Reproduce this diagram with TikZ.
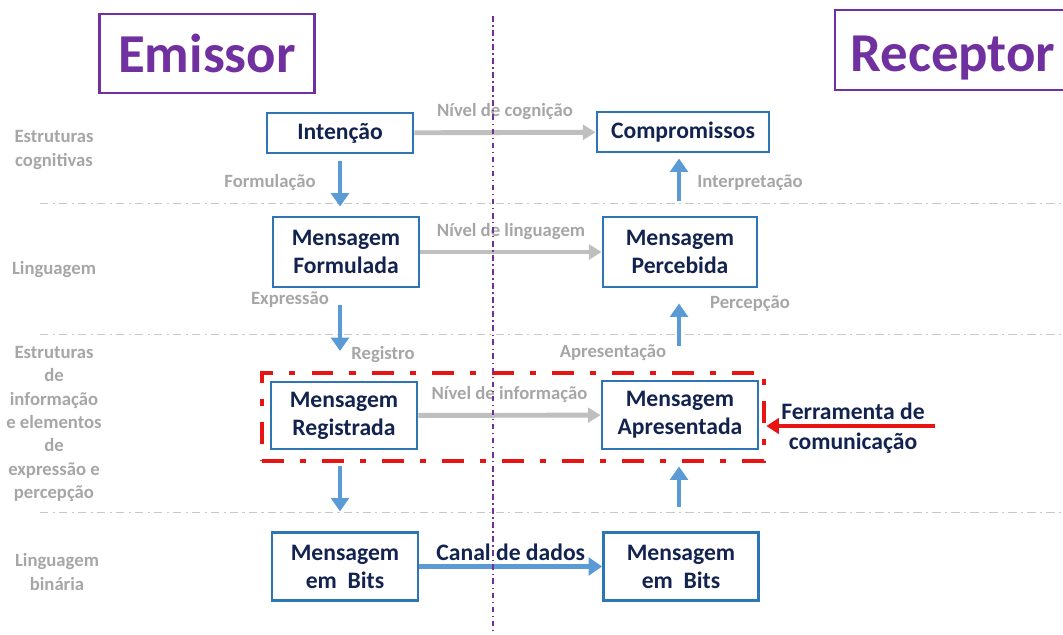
\documentclass[tikz,border=0pt]{standalone}
\usepackage{fontspec}
\setmainfont{Carlito}
\usetikzlibrary{arrows.meta,positioning}

\definecolor{boxblue}{HTML}{2E75B6}
\definecolor{flowblue}{HTML}{5B9BD5}
\definecolor{navy}{HTML}{13234F}
\definecolor{lblgray}{HTML}{A6A6A6}
\definecolor{levelgray}{HTML}{BFBFBF}
\definecolor{sepgray}{HTML}{C8C8C8}
\definecolor{rolepurple}{HTML}{7030A0}
\definecolor{toolred}{HTML}{E81414}

\tikzset{
  msgbox/.style={draw=boxblue, line width=2pt, fill=white, text=navy, align=center,
    inner sep=0pt, font=\fontsize{16.8}{20}\selectfont\bfseries},
  role/.style={draw=rolepurple, line width=2pt, text=rolepurple, inner sep=0pt, text depth=0pt,
    font=\fontsize{39}{40}\selectfont\bfseries},
  level/.style={draw=levelgray, line width=3.5pt, -{Triangle[width=10.5pt,length=9pt]}},
  flow/.style={draw=flowblue, line width=3.5pt, -{Triangle[width=12.5pt,length=9.5pt]}},
  lbl/.style={text=lblgray, font=\fontsize{13.3}{15}\selectfont\bfseries},
  sidelbl/.style={text=lblgray, align=center, font=\fontsize{13.3}{16.7}\selectfont\bfseries},
  sep/.style={draw=sepgray, line width=0.7pt, dash pattern=on 6pt off 3pt on 1.5pt off 3pt},
  midline/.style={draw=rolepurple, line width=1pt, dash pattern=on 4pt off 2.5pt on 1pt off 2.5pt},
  toolframe/.style={draw=toolred, line width=3.2pt, dash pattern=on 15.6pt off 11.4pt on 4.3pt off 11.4pt},
  toolarrow/.style={draw=toolred, line width=3.5pt, -{Triangle[width=11pt,length=9pt]}},
  tooltext/.style={text=navy, align=center, font=\fontsize{16.8}{21.5}\selectfont\bfseries},
}

\begin{document}
\begin{tikzpicture}[x=0.025cm,y=-0.025cm]
    \useasboundingbox (0,0) rectangle (1063,634);
    % separators
    \draw[sep] (40,203) -- (1063,203);
    \draw[sep] (40,334) -- (1063,334);
    \draw[sep] (40,512) -- (1063,512);
    % titles
    \node[role, minimum width=5.375cm, minimum height=1.975cm] (emissor) at (207,53.5) {Emissor};
    \node[role, text height=30.5pt, minimum width=5.9cm, minimum height=2cm] (receptor) at (953,50) {Receptor};
    % side labels
    \node[sidelbl] (scog) at (54,150) {Estruturas\\cognitivas};
    \node[sidelbl] (sling) at (54,270) {Linguagem};
    \node[sidelbl] (sinfo) at (54,424) {Estruturas\\de\\informação\\e elementos\\de\\expressão e\\percepção};
    \node[sidelbl] (sbin) at (57,572) {Linguagem\\binária};
    % tool frame
    \node[toolframe, minimum width=12.55cm, minimum height=2.2cm] (frame) at (513,417) {};
    % message boxes
    \node[msgbox, minimum width=3.65cm, minimum height=1cm] (intencao) at (340,133) {Intenção};
    \node[msgbox, minimum width=4.3cm, minimum height=1cm] (compromissos) at (683,132) {Compromissos};
    \node[msgbox, minimum width=3.65cm, minimum height=1.75cm] (formulada) at (346,252) {Mensagem\\Formulada};
    \node[msgbox, minimum width=3.85cm, minimum height=1.75cm] (percebida) at (680,252) {Mensagem\\Percebida};
    \node[msgbox, minimum width=3.65cm, minimum height=1.675cm] (registrada) at (344,415.5) {Mensagem\\Registrada};
    \node[msgbox, minimum width=3.9cm, minimum height=1.7cm] (apresentada) at (680,415) {Mensagem\\Apresentada};
    \node[msgbox, minimum width=3.65cm, minimum height=1.7cm] (bitsL) at (345,566.5) {Mensagem\\em~ Bits};
    \node[msgbox, minimum width=3.875cm, minimum height=1.7cm] (bitsR) at (681,566.5) {Mensagem\\em~ Bits};
    % levels
    \draw[level] (intencao) -- node[lbl, above=4pt] (ncog) {Nível de cognição} (compromissos);
    \draw[level] (formulada) -- node[lbl, above=4pt] (nling) {Nível de linguagem} (percebida);
    \draw[level] (registrada) -- node[lbl, above=4pt] (ninfo) {Nível de informação} (apresentada);
    \draw[flow, line width=4pt] (bitsL) -- node[tooltext, above=-1pt] (canal) {Canal de dados} (bitsR);
    % vertical flows
    \coordinate (colL) at (340,0);
    \coordinate (colR) at (679,0);
    \draw[flow, shorten <=5pt, shorten >=6.4pt] (colL |- intencao.south) -- (colL |- formulada.north);
    \draw[flow, shorten <=12pt, shorten >=21pt] (colL |- formulada.south) -- (colL |- registrada.north);
    \draw[flow, shorten <=11.4pt, shorten >=14pt] (colL |- registrada.south) -- (colL |- bitsL.north);
    \draw[flow, shorten <=17pt, shorten >=11.4pt] (colR |- bitsR.north) -- (colR |- apresentada.south);
    \draw[flow, shorten <=24pt, shorten >=10.7pt] (colR |- apresentada.north) -- (colR |- percebida.south);
    \draw[flow, shorten <=10.7pt, shorten >=3.6pt] (colR |- percebida.north) -- (colR |- compromissos.south);
    \node[lbl] (formulacao) at (270,183) {Formulação};
    \node[lbl] (interpretacao) at (750,183) {Interpretação};
    \node[lbl] (expressao) at (290,300) {Expressão};
    \node[lbl] (registro) at (383,355) {Registro};
    \node[lbl] (apresentacao) at (613,353) {Apresentação};
    \node[lbl] (percepcao) at (750,304) {Percepção};
    % communication tool
    \coordinate (ferrtail) at (935,426);
    \draw[toolarrow] (ferrtail) -- (frame.east |- ferrtail);
    \node[tooltext] (ferramenta) at (853,428) {Ferramenta de\\comunicação};
    % middle line
    \draw[midline] (493,16) -- (493,634);
\end{tikzpicture}
\end{document}
